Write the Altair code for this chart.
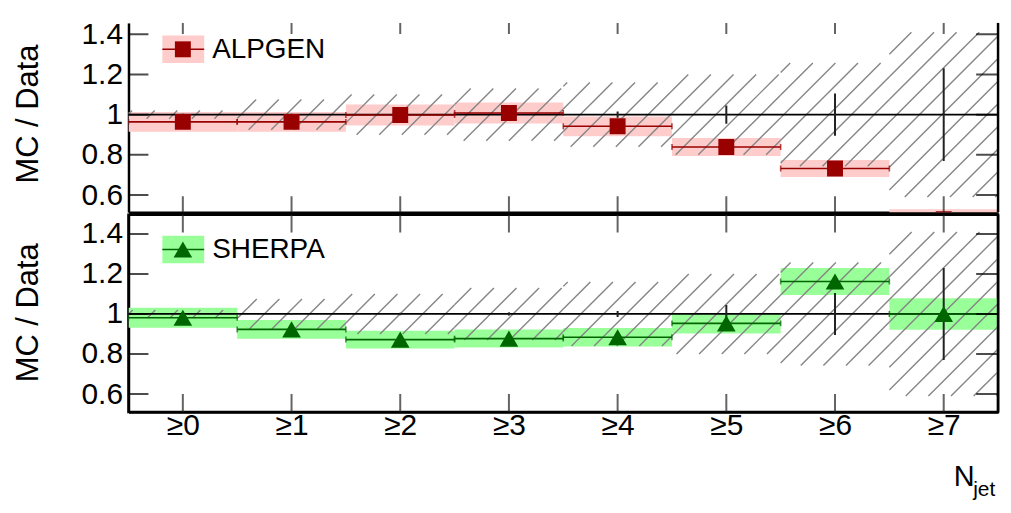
import math
import altair as alt
import pandas as pd

# ---------------- data ----------------
bins = [0, 1, 2, 3, 4, 5, 6, 7]
bin_labels = ["≥0", "≥1", "≥2", "≥3", "≥4", "≥5", "≥6", "≥7"]
data_stat_err = [0.004, 0.005, 0.006, 0.008, 0.015, 0.045, 0.105, 0.23]
syst_err = [0.02, 0.075, 0.10, 0.13, 0.16, 0.20, 0.257, 0.41]
alpgen_ratio = [0.964, 0.964, 0.998, 1.008, 0.942, 0.839, 0.732, 0.48]
alpgen_err = [0.049, 0.049, 0.052, 0.052, 0.049, 0.045, 0.042, 0.05]
sherpa_ratio = [0.981, 0.923, 0.872, 0.877, 0.884, 0.953, 1.162, 1.0]
sherpa_err = [0.050, 0.047, 0.044, 0.045, 0.046, 0.050, 0.067, 0.079]
y_ticks = [0.6, 0.8, 1.0, 1.2, 1.4]
y_title = "MC / Data"
x_title = "N"
x_title_sub = "jet"

FONT = "Liberation Sans"
W = 873
H_TOP, H_BOT = 190, 198
DOM_TOP = [0.515, 1.456]
DOM_BOT = [0.511, 1.496]
X_DOM = [-0.5, 7.5]
HATCH_SPACING = 22.7


def main_df(ratio, err):
    return pd.DataFrame({
        "bin": bins,
        "lo": [b - 0.5 for b in bins],
        "hi": [b + 0.5 for b in bins],
        "ratio": ratio,
        "blo": [r - e for r, e in zip(ratio, err)],
        "bhi": [r + e for r, e in zip(ratio, err)],
        "dlo": [1 - d for d in data_stat_err],
        "dhi": [1 + d for d in data_stat_err],
    })


def caps_df(ratio):
    rows = []
    for b, r in zip(bins, ratio):
        rows.append({"edge": b - 0.5, "ratio": r})
        rows.append({"edge": b + 0.5, "ratio": r})
    return pd.DataFrame(rows)


def hatch_df(dom, height, phase):
    """Diagonal hatch pattern filling the systematic band of each bin."""
    sx = W / (X_DOM[1] - X_DOM[0])
    sy = height / (dom[1] - dom[0])
    rows = []
    for b, s in zip(bins, syst_err):
        x0, x1 = b - 0.5, b + 0.5
        y0, y1 = max(1 - s, dom[0]), min(1 + s, dom[1])
        X0, X1 = (x0 - X_DOM[0]) * sx, (x1 - X_DOM[0]) * sx
        D0, D1 = (dom[1] - y1) * sy, (dom[1] - y0) * sy
        k0 = math.ceil((X0 + D0 - phase) / HATCH_SPACING)
        k1 = math.floor((X1 + D1 - phase) / HATCH_SPACING)
        for k in range(k0, k1 + 1):
            c = phase + k * HATCH_SPACING
            xa = max(X0, c - D1)
            xb = min(X1, c - D0)
            if xb - xa < 0.8:
                continue
            rows.append({
                "x": xa / sx + X_DOM[0], "y": dom[1] - (c - xa) / sy,
                "x2": xb / sx + X_DOM[0], "y2": dom[1] - (c - xb) / sy,
            })
    return pd.DataFrame(rows)


xscale = alt.Scale(domain=X_DOM, nice=False, zero=False)


def panel(name, ratio, err, band_color, mk_color, shape, mk_size, dom, height,
          top_tick, bot_tick, phase, leg_y, bottom, title_y):
    yscale = alt.Scale(domain=dom, nice=False, zero=False)
    d = main_df(ratio, err)
    one = pd.DataFrame({"name": [name]})

    def X(f, axis=None):
        if axis is None:
            return alt.X(f, type="quantitative", scale=xscale)
        return alt.X(f, type="quantitative", scale=xscale, axis=axis)

    def Y(f, axis=None):
        if axis is None:
            return alt.Y(f, type="quantitative", scale=yscale)
        return alt.Y(f, type="quantitative", scale=yscale, axis=axis)

    if bottom:
        xaxis = alt.Axis(values=bins, labelExpr=str(bin_labels) + "[datum.value]",
                         labelFont=FONT, labelFontSize=30, labelColor="black",
                         labelBaseline="alphabetic", labelPadding=23,
                         ticks=False, tickSize=0, grid=False,
                         domainColor="black", domainWidth=2.5,
                         title=x_title, titleFont=FONT, titleFontSize=29,
                         titleFontWeight="normal", titleColor="black",
                         titleX=828, titleY=74, titleAlign="left",
                         titleBaseline="alphabetic")
    else:
        xaxis = alt.Axis(labels=False, ticks=False, tickSize=0, grid=False,
                         domainColor="black", domainWidth=2.5, title=None)
    yaxis = alt.Axis(values=y_ticks, format="~g", labelFont=FONT, labelFontSize=30,
                     labelColor="black", labelPadding=6, ticks=False, tickSize=0,
                     grid=False, domainColor="black", domainWidth=2.5,
                     title=y_title, titleFont=FONT, titleFontSize=31,
                     titleFontWeight="normal", titleColor="black",
                     titleX=-100, titleY=title_y, titleAngle=270,
                     titleAlign="center", titleBaseline="middle")

    bands = alt.Chart(d).mark_rect(color=band_color, opacity=1, clip=True).encode(
        x=X("lo", xaxis), x2="hi", y=Y("blo", yaxis), y2="bhi")
    hatch = alt.Chart(hatch_df(dom, height, phase)).mark_rule(
        color="#858585", strokeWidth=1.4, clip=True).encode(
        x=X("x"), y=Y("y"), x2="x2", y2="y2")
    unity = alt.Chart(one).mark_rule(color="black", strokeWidth=1.8).encode(
        y=alt.datum(1.0))
    stat = alt.Chart(d).mark_rule(color="#222222", strokeWidth=2, clip=True).encode(
        x=X("bin"), y=Y("dlo"), y2="dhi")
    xerr = alt.Chart(d).mark_rule(color=mk_color, strokeWidth=1.6, clip=True).encode(
        x=X("lo"), x2="hi", y=Y("ratio"))
    caps = alt.Chart(caps_df(ratio)).mark_tick(
        orient="vertical", size=6, thickness=1.6, color=mk_color, clip=True).encode(
        x=X("edge"), y=Y("ratio"))
    pts = alt.Chart(d).mark_point(shape=shape, filled=True, size=mk_size,
                                  opacity=1, color=mk_color, clip=True).encode(
        x=X("bin"), y=Y("ratio"))

    xt = pd.DataFrame({"b": bins})
    yt = pd.DataFrame({"v": y_ticks})
    xt_top = alt.Chart(xt).mark_tick(orient="vertical", size=top_tick * 2, thickness=2,
                                     color="#222222", clip=True).encode(
        x=X("b"), y=alt.datum(dom[1]))
    xt_bot = alt.Chart(xt).mark_tick(orient="vertical", size=bot_tick * 2, thickness=2,
                                     color="#222222", clip=True).encode(
        x=X("b"), y=alt.datum(dom[0]))
    yt_left = alt.Chart(yt).mark_tick(orient="horizontal", size=40, thickness=2,
                                      color="black", clip=True).encode(
        x=alt.datum(X_DOM[0]), y=Y("v"))
    yt_right = alt.Chart(yt).mark_tick(orient="horizontal", size=44, thickness=2,
                                       color="black", clip=True).encode(
        x=alt.datum(X_DOM[1]), y=Y("v"))
    right_line = alt.Chart(one).mark_rule(color="black", strokeWidth=2.5).encode(
        x=alt.datum(X_DOM[1]))

    ly = leg_y
    leg_rect = alt.Chart(one).mark_rect(color=band_color, opacity=1).encode(
        x=alt.value(34), x2=alt.value(76), y=alt.value(ly - 13.8), y2=alt.value(ly + 13.8))
    leg_line = alt.Chart(one).mark_rule(color=mk_color, strokeWidth=1.6).encode(
        x=alt.value(34), x2=alt.value(76), y=alt.value(ly))
    leg_pt = alt.Chart(one).mark_point(shape=shape, filled=True, size=mk_size,
                                       opacity=1, color=mk_color).encode(
        x=alt.value(54.6), y=alt.value(ly))
    leg_txt = alt.Chart(one).mark_text(align="left", baseline="middle", font=FONT,
                                       fontSize=28, color="black").encode(
        x=alt.value(84), y=alt.value(ly + 0.3), text="name:N")

    layers = [bands, hatch, unity, stat, xerr, caps, pts, xt_top, xt_bot,
              yt_left, yt_right, right_line, leg_rect, leg_line, leg_pt, leg_txt]
    if bottom:
        sub = alt.Chart(pd.DataFrame({"t": [x_title_sub]})).mark_text(
            align="left", baseline="alphabetic", font=FONT, fontSize=21,
            color="black").encode(x=alt.value(848), y=alt.value(282), text="t:N")
        layers.append(sub)
        view = alt.ViewBackground(stroke="black", strokeWidth=2.5)
    else:
        view = alt.ViewBackground(stroke="transparent")
    return alt.layer(*layers).properties(width=W, height=height, view=view)


top = panel("ALPGEN", alpgen_ratio, alpgen_err, "#ffcccc", "#990000", "square", 256,
            DOM_TOP, H_TOP, 11, 16, 0.8, 26.5, False, 91)
bot = panel("SHERPA", sherpa_ratio, sherpa_err, "#99ff99", "#006600", "triangle-up", 350,
            DOM_BOT, H_BOT, 18, 18, 9.1, 35, True, 98)

chart = alt.vconcat(top, bot, spacing=-2.5).properties(
    padding={"left": 11, "top": 17, "right": 10, "bottom": 10},
    background="white",
)

chart.save("out.html", embed_options={"renderer": "svg", "actions": False})
